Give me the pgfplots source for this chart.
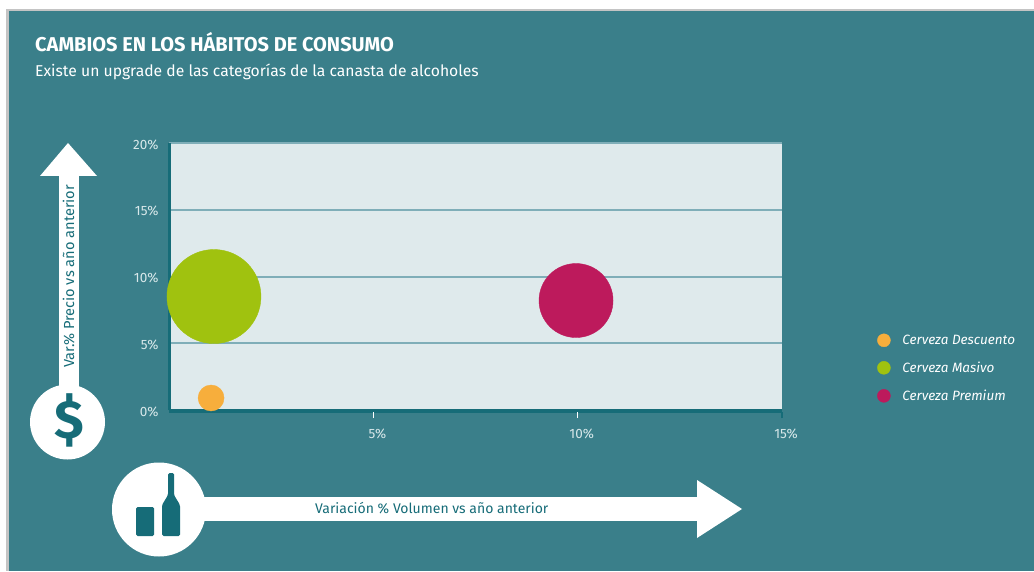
\documentclass[border=0pt]{standalone}
\usepackage{pgfplots}
\pgfplotsset{compat=1.18}
\usepackage{pgfplotstable}
\usepackage{fontspec}
\setmainfont{Fira Sans}
\definecolor{panel}{HTML}{3A7F8A}
\definecolor{plotbg}{HTML}{DFEAEC}
\definecolor{gridc}{HTML}{7FAEB8}
\definecolor{deep}{HTML}{166C78}
\definecolor{ticktxt}{HTML}{D8E8EA}
\definecolor{edge}{HTML}{C4C4C4}
\definecolor{cdesc}{HTML}{F7AE3C}
\definecolor{cmas}{HTML}{A0C20F}
\definecolor{cprem}{HTML}{BD1A5C}
% Bubble positions: volume change (x), price change (y), both in percent
\pgfplotstableread{
x y
1.03 0.9
}\descuento
\pgfplotstableread{
x y
1.1 8.5
}\masivo
\pgfplotstableread{
x y
9.96 8.2
}\premium
\begin{document}
\begin{tikzpicture}[x=1pt,y=1pt]
% page and panel
\fill[white] (0,0) rectangle (1034,571);
\fill[edge] (6,0) rectangle (1034,562);
\fill[panel] (8.5,0) rectangle (1034,560);
% titles
\node[anchor=base west,inner sep=0pt,text=white,font=\fontsize{20}{20}\selectfont\bfseries] at (35,519) {CAMBIOS EN LOS HÁBITOS DE CONSUMO};
\node[anchor=base west,inner sep=0pt,text=white,font=\fontsize{15.7}{16}\selectfont] at (35,494) {Existe un upgrade de las categorías de la canasta de alcoholes};
% vertical arrow with the price badge
\fill[white] (59,176) rectangle (79,395);
\fill[white] (40,395) -- (97,395) -- (68,428) -- cycle;
\fill[white] (67.5,149) circle (37.5pt);
\node[text=deep,font=\fontsize{54}{54}\selectfont\bfseries,inner sep=0pt] at (69,151) {\$};
\node[rotate=90,anchor=base west,inner sep=0pt,text=deep,font=\fontsize{14.6}{15}\selectfont] at (74,203) {Var.\% Precio vs año anterior};
% horizontal arrow with the volume badge
\fill[white] (159,50) rectangle (697,74);
\fill[white] (697,91) -- (742,62) -- (697,33) -- cycle;
\fill[white] (159,61.5) circle (47pt);
\fill[deep,rounded corners=1.5pt] (136,35) rectangle (154,64);
\fill[deep,rounded corners=1.5pt] (162,35) -- (162,66) -- (168,76) -- (168,98) -- (174,98) -- (174,76) -- (180,66) -- (180,35) -- cycle;
\node[anchor=base west,inner sep=0pt,text=deep,font=\fontsize{14}{14}\selectfont] at (315,57.5) {Variación \% Volumen vs año anterior};
% base rule below the plot area
\draw[deep,line width=1pt] (169,158.5) -- (782,158.5);
\begin{axis}[
  at={(169pt,161pt)},anchor=origin,
  scale only axis,width=613pt,height=267pt,
  xmin=0,xmax=15,ymin=0,ymax=20,
  xtick={5,10},ytick={0,5,10,15,20},
  xticklabels={5\%,10\%},
  yticklabels={0\%,5\%,10\%,15\%,20\%},
  extra x ticks={15},
  extra x tick labels={15\%},
  axis lines=left,
  axis line style={-,deep,line width=3pt},
  axis background/.style={fill=plotbg},
  ymajorgrids,
  grid style={gridc,line width=2pt},
  clip=false,
  tick align=outside,
  major tick length=6pt,
  x tick style={white,line width=1pt,yshift=-2pt},
  y tick style={draw=none},
  extra x tick style={x tick style={deep,line width=2.5pt}},
  x tick label style={text=ticktxt,font=\fontsize{13.5}{14}\selectfont,xshift=4pt,yshift=-9.5pt},
  y tick label style={text=ticktxt,font=\fontsize{13.5}{14}\selectfont,yshift=-1.5pt,xshift=-1pt},
  legend cell align=left,
  legend style={at={(rel axis cs:1.155,0.156)},anchor=west,draw=none,fill=none,
    text=white,font=\fontsize{13.5}{14}\selectfont\itshape,inner sep=0pt,
    row sep=12pt},
  legend image code/.code={\path[draw=none] (-6.5pt,0pt) -- (16.5pt,0pt);\fill[#1] (0pt,0pt) circle (6.5pt);},
]
\addplot[only marks,mark=*,mark size=13pt,cdesc,mark options={draw=none,fill=cdesc}] table {\descuento};
\addlegendentry{Cerveza Descuento}
\addplot[only marks,mark=*,mark size=47pt,cmas,mark options={draw=none,fill=cmas}] table {\masivo};
\addlegendentry{Cerveza Masivo}
\addplot[only marks,mark=*,mark size=37pt,cprem,mark options={draw=none,fill=cprem}] table {\premium};
\addlegendentry{Cerveza Premium}
\end{axis}
\end{tikzpicture}
\end{document}
